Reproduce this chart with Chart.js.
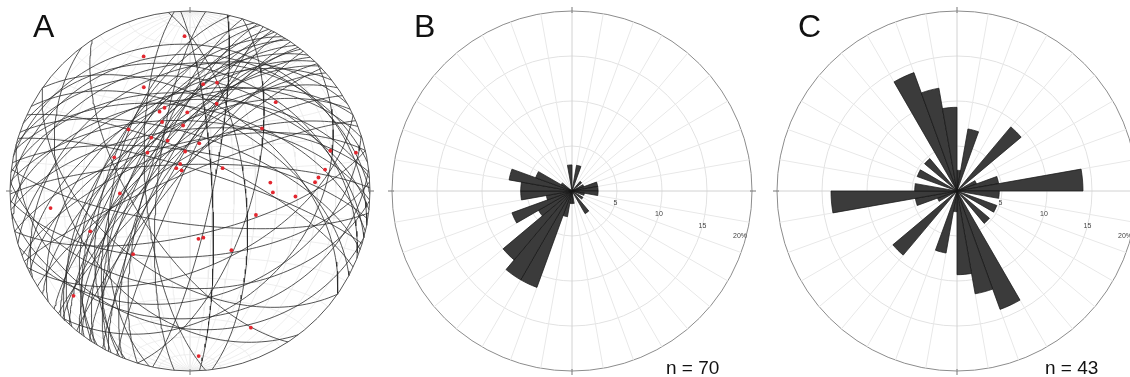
<!DOCTYPE html>
<html><head><meta charset="utf-8">
<script src="https://cdn.jsdelivr.net/npm/chart.js@4.4.1/dist/chart.umd.min.js"></script>
<style>
html,body{margin:0;padding:0;background:#fff;width:1130px;height:377px;overflow:hidden;position:relative;font-family:"Liberation Sans",Arial,sans-serif;}
canvas{position:absolute;top:0;}
.lbl{position:absolute;font-size:32px;color:#111;line-height:32px;white-space:nowrap;}
.n{position:absolute;font-size:19px;color:#111;line-height:19px;white-space:nowrap;}
</style></head><body>
<canvas id="cA" width="380" height="377" style="left:0px"></canvas>
<canvas id="cB" width="380" height="377" style="left:380px"></canvas>
<canvas id="cC" width="380" height="377" style="left:760px"></canvas>
<div class="lbl" style="left:33px;top:10px">A</div>
<div class="lbl" style="left:414px;top:10px">B</div>
<div class="lbl" style="left:798px;top:10px">C</div>
<div class="n" id="nB" style="left:666px;top:358px"></div>
<div class="n" id="nC" style="left:1045px;top:358px"></div>
<script>
// ---------- DATA ----------
// rose bins (azimuth, degrees clockwise from north, 10° classes)
const binLabels = ['0','10','20','30','40','50','60','70','80','90','100','110','120','130','140','150','160','170',
                   '180','190','200','210','220','230','240','250','260','270','280','290','300','310','320','330','340','350'];
// B: strike rose, % (n = 70)
const roseB = [0, 2.9, 0, 0, 1.4, 0, 1.4, 2.9, 2.9, 2.9, 1.4, 0, 1.4, 0, 2.9, 0, 0, 1.4,
               1.4, 2.9, 11.4, 11.4, 10.0, 4.3, 7.1, 2.9, 5.7, 5.7, 7.1, 4.3, 1.4, 0, 0, 0, 0, 2.9];
// C: lineation trend rose (axial), % (n = 43)
const roseC = [2.3, 7.0, 0, 0, 9.3, 0, 2.3, 4.7, 14.0, 4.7, 0, 4.7, 0, 4.7, 0, 14.0, 11.6, 9.3,
               2.3, 7.0, 0, 0, 9.3, 0, 2.3, 4.7, 14.0, 4.7, 0, 4.7, 0, 4.7, 0, 14.0, 11.6, 9.3];
const ringTicks = [5, 10, 15, 20];
const ringTickLabels = ['5', '10', '15', '20%'];
const nLabels = ['n = 70', 'n = 43'];

// A: planes (strike, right-hand rule / dip), great circles
const planeStrike = [12,17, 45, 65, 72,77, 83,87, 93,97, 105, 125, 143,147, 175, 185, 193,197,
  201,202,203,204,206,207,208,209, 211,212,213,214,216,217,218,219,
  221,222,224,225,226,227,229, 232,235,238, 241,243,245,247,249, 253,257,
  261,264,266,269, 271,273,276,279, 281,283,285,287,289, 292,295,298, 305, 353,357];
const planeDip = [80,62, 35, 55, 40,70, 30,60, 45,75, 25, 50, 35,65, 70, 75, 55,70,
  52,71,58,84,63,75,67,79, 50,64,55,77,60,72,68,82,
  52,66,57,74,62,80,70, 48,62,76, 35,60,50,82,70, 45,68,
  30,62,48,78, 25,58,45,72, 20,52,38,80,65, 33,74,55, 50, 65,80];
// A: lineations (trend / plunge), red points, n = 43
const lineTrend = [358,341,336,7,14,17,44,339,343,358,338,354,49,315,324,336,11,353,312,294,74,77,340,329,338,55,81,84,86,84,91,93,268,263,110,248,170,164,222,145,228,156,177];
const linePlunge = [15,22,37,40,38,48,32,51,50,54,56,60,46,50,60,65,68,72,64,52,20,6,77,78,80,72,25,29,31,53,52,41,58,23,58,40,68,68,51,57,14,18,9];
const netStep = 10;

document.getElementById('nB').textContent = nLabels[0];
document.getElementById('nC').textContent = nLabels[1];

// ---------- projection helpers (lower hemisphere, equal area) ----------
const rad = d => d * Math.PI / 180;
function project(e, n, d) { const k = 1 / Math.sqrt(1 + d); return { x: e * k, y: n * k }; }
function lineVec(trend, plunge) {
  return [Math.sin(rad(trend)) * Math.cos(rad(plunge)), Math.cos(rad(trend)) * Math.cos(rad(plunge)), Math.sin(rad(plunge))];
}
function greatCircle(strike, dip) {
  const s = [Math.sin(rad(strike)), Math.cos(rad(strike)), 0];
  const dd = [Math.sin(rad(strike + 90)) * Math.cos(rad(dip)), Math.cos(rad(strike + 90)) * Math.cos(rad(dip)), Math.sin(rad(dip))];
  const pts = [];
  for (let a = 0; a <= 180; a += 2) {
    const c = Math.cos(rad(a)), si = Math.sin(rad(a));
    pts.push(project(c * s[0] + si * dd[0], c * s[1] + si * dd[1], Math.max(0, c * s[2] + si * dd[2])));
  }
  return pts;
}
function smallCircle(coneDeg, north) {
  const pts = [];
  for (let f = 0; f <= 180; f += 3) {
    const e = Math.sin(rad(coneDeg)) * Math.cos(rad(f));
    const n = (north ? 1 : -1) * Math.cos(rad(coneDeg));
    const d = Math.sin(rad(coneDeg)) * Math.sin(rad(f));
    pts.push(project(e, n, d));
  }
  return pts;
}

// ---------- Panel A ----------
const datasetsA = [];
datasetsA.push({
  data: lineTrend.map((t, i) => { const v = lineVec(t, linePlunge[i]); return project(v[0], v[1], v[2]); }),
  showLine: false, pointRadius: 1.9, pointBackgroundColor: '#e3262e', pointBorderWidth: 0, pointHoverRadius: 0
});
planeStrike.forEach((s, i) => {
  datasetsA.push({ data: greatCircle(s, planeDip[i]), showLine: true, pointRadius: 0, borderColor: '#2a2a2a', borderWidth: 0.8, fill: false });
});
for (let d = netStep; d < 90; d += netStep) {
  datasetsA.push({ data: greatCircle(0, d), showLine: true, pointRadius: 0, borderColor: '#eaeaea', borderWidth: 0.8 });
  datasetsA.push({ data: greatCircle(180, d), showLine: true, pointRadius: 0, borderColor: '#eaeaea', borderWidth: 0.8 });
  datasetsA.push({ data: smallCircle(d, true), showLine: true, pointRadius: 0, borderColor: '#eaeaea', borderWidth: 0.8 });
  datasetsA.push({ data: smallCircle(d, false), showLine: true, pointRadius: 0, borderColor: '#eaeaea', borderWidth: 0.8 });
}
datasetsA.push({ data: greatCircle(0, 90), showLine: true, pointRadius: 0, borderColor: '#eaeaea', borderWidth: 0.8 });
datasetsA.push({ data: greatCircle(90, 90), showLine: true, pointRadius: 0, borderColor: '#eaeaea', borderWidth: 0.8 });

function drawTicks(ctx, cx, cy, R) {
  ctx.strokeStyle = '#777'; ctx.lineWidth = 1;
  [0, 90, 180, 270].forEach(b => {
    const a = rad(b);
    ctx.beginPath();
    ctx.moveTo(cx + (R - 2) * Math.sin(a), cy - (R - 2) * Math.cos(a));
    ctx.lineTo(cx + (R + 4) * Math.sin(a), cy - (R + 4) * Math.cos(a));
    ctx.stroke();
  });
}

const primitivePlugin = {
  id: 'primitive',
  afterDatasetsDraw(chart) {
    const { ctx, scales: { x, y } } = chart;
    const cx = x.getPixelForValue(0), cy = y.getPixelForValue(0);
    const R = x.getPixelForValue(1) - cx;
    ctx.save();
    ctx.strokeStyle = '#555'; ctx.lineWidth = 1;
    ctx.beginPath(); ctx.arc(cx, cy, R, 0, 2 * Math.PI); ctx.stroke();
    drawTicks(ctx, cx, cy, R);
    ctx.restore();
  }
};

new Chart(document.getElementById('cA'), {
  type: 'scatter',
  data: { datasets: datasetsA },
  options: {
    responsive: false, animation: false, events: [],
    layout: { padding: { left: 10, right: 10, top: 11, bottom: 6 } },
    scales: {
      x: { type: 'linear', min: -1, max: 1, display: false },
      y: { type: 'linear', min: -1, max: 1, display: false }
    },
    elements: { line: { tension: 0 } },
    plugins: { legend: { display: false }, tooltip: { enabled: false } }
  },
  plugins: [primitivePlugin]
});

// ---------- Panels B and C ----------
const labelBearing = 105;
const rosePlugin = {
  id: 'roseExtras',
  afterDraw(chart) {
    const s = chart.scales.r, ctx = chart.ctx;
    const cx = s.xCenter, cy = s.yCenter;
    const R = s.getDistanceFromCenterForValue(ringTicks[ringTicks.length - 1]);
    ctx.save();
    drawTicks(ctx, cx, cy, R);
    ctx.fillStyle = '#444';
    ctx.font = '7px "Liberation Sans", Arial, sans-serif';
    ctx.textAlign = 'center'; ctx.textBaseline = 'middle';
    const a = rad(labelBearing);
    ringTicks.forEach((v, i) => {
      let r = s.getDistanceFromCenterForValue(v);
      if (i === ringTicks.length - 1) r -= 6;
      ctx.fillText(ringTickLabels[i], cx + r * Math.sin(a), cy - r * Math.cos(a));
    });
    ctx.restore();
  }
};

function roseChart(id, values, padLeft, padRight) {
  return new Chart(document.getElementById(id), {
    type: 'polarArea',
    data: { labels: binLabels, datasets: [{ data: values, backgroundColor: '#3b3b3b', borderColor: '#141414', borderWidth: 0.7 }] },
    options: {
      responsive: false, animation: false, events: [],
      layout: { padding: { left: padLeft, right: padRight, top: 11, bottom: 6 } },
      plugins: { legend: { display: false }, tooltip: { enabled: false } },
      scales: {
        r: {
          min: 0, max: 20, startAngle: 0,
          ticks: { display: false, stepSize: 5 },
          grid: { circular: true, lineWidth: 1, color: c => (c.tick && c.tick.value === 20) ? '#8c8c8c' : '#e2e2e2' },
          angleLines: { display: true, lineWidth: 1, color: c => (c.index % 9 === 0) ? '#d2d2d2' : '#e8e8e8' },
          pointLabels: { display: false }
        }
      }
    },
    plugins: [rosePlugin]
  });
}
roseChart('cB', roseB, 12, 8);
roseChart('cC', roseC, 17, 3);
</script>
</body></html>
